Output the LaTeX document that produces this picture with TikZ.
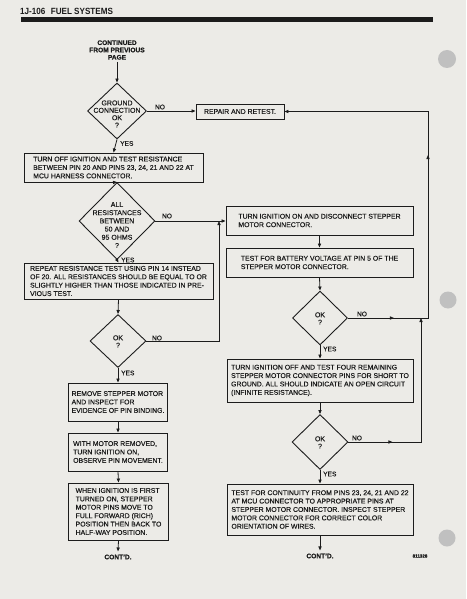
\documentclass[tikz,border=0pt]{standalone}
\usepackage{fontspec}
\setmainfont[FakeBold=0.6]{Liberation Sans}
\newfontfamily\hdrfont[FakeStretch=0.9]{Liberation Sans}
\newfontfamily\txtfont[FakeBold=0.35]{Liberation Sans}
\usetikzlibrary{shapes.geometric,arrows.meta,decorations.markings}
\definecolor{paper}{RGB}{236,235,231}
\definecolor{ink}{RGB}{28,28,28}
\definecolor{hole}{RGB}{192,192,192}
\begin{document}
\begin{tikzpicture}[x=1pt,y=-1pt,
  mytip/.tip={Triangle[length=4pt,width=3.2pt]},
  boxnode/.style={draw=ink,line width=0.9pt,rectangle,align=left,inner sep=0pt,text=ink,font=\txtfont\fontsize{6.9}{8.4}\selectfont},
  dia/.style={draw=ink,line width=0.9pt,diamond,inner sep=0pt},
  dtext/.style={align=center,inner sep=0pt,text=ink,font=\txtfont\fontsize{7}{7.4}\selectfont},
  lbl/.style={inner sep=0pt,text=ink,font=\txtfont\fontsize{6.6}{7}\selectfont},
  bold/.style={align=center,inner sep=0pt,text=ink,font=\fontsize{6.6}{7.3}\selectfont\bfseries},
  conn/.style={draw=ink,line width=0.8pt},
  tipend/.style={conn,-mytip}
]
\useasboundingbox (0,0) rectangle (466,599);
\fill[paper] (0,0) rectangle (466,599);
% punch holes
\fill[hole] (447,59) circle[radius=9pt];
\fill[hole] (448,300) circle[radius=8.5pt];
\fill[hole] (447,538) circle[radius=8.5pt];
% header
\node[anchor=west,inner sep=0pt,text=ink,font=\hdrfont\fontsize{9}{10}\selectfont\bfseries] (hdr) at (20,11) {1J-106\hspace{0.6em}FUEL SYSTEMS};
\fill[ink] (21,17.5) rectangle (433,22);

% left column
\node[bold] (cont) at (117,50) {CONTINUED\\FROM PREVIOUS\\PAGE};
\node[dia,minimum width=59pt,minimum height=56pt] (d1) at (117,111) {};
\node[dtext] (d1t) at (117,114) {GROUND\\CONNECTION\\OK\\?};
\node[boxnode,minimum width=88pt,minimum height=15pt,align=center] (repair) at (240,111.5) {REPAIR AND RETEST.};
\node[boxnode,minimum width=179pt,minimum height=29pt] (turnoff) at (113.5,167.5) {TURN OFF IGNITION AND TEST RESISTANCE\\BETWEEN PIN 20 AND PINS 23, 24, 21 AND 22 AT\\MCU HARNESS CONNECTOR.};
\node[dia,minimum width=76pt,minimum height=77pt] (d2) at (117,221) {};
\node[dtext,font=\txtfont\fontsize{7}{8.2}\selectfont] (d2t) at (117,225) {ALL\\RESISTANCES\\BETWEEN\\50 AND\\95 OHMS\\?};
\node[boxnode,minimum width=189pt,minimum height=36pt] (repeat) at (118.5,281) {REPEAT RESISTANCE TEST USING PIN 14 INSTEAD\\OF 20. ALL RESISTANCES SHOULD BE EQUAL TO OR\\SLIGHTLY HIGHER THAN THOSE INDICATED IN PRE-\\VIOUS TEST.};
\node[dia,minimum width=56pt,minimum height=53pt] (d3) at (118,341) {};
\node[dtext] (d3t) at (118,341.5) {OK\\?};
\node[boxnode,minimum width=99pt,minimum height=38pt] (remove) at (118,402) {REMOVE STEPPER MOTOR\\AND INSPECT FOR\\EVIDENCE OF PIN BINDING.};
\node[boxnode,minimum width=99pt,minimum height=38pt] (withmotor) at (118,452) {WITH MOTOR REMOVED,\\TURN IGNITION ON,\\OBSERVE PIN MOVEMENT.};
\node[boxnode,minimum width=100pt,minimum height=57pt] (when) at (118.5,511.5) {WHEN IGNITION IS FIRST\\TURNED ON, STEPPER\\MOTOR PINS MOVE TO\\FULL FORWARD (RICH)\\POSITION THEN BACK TO\\HALF-WAY POSITION.};
\node[bold] (contd1) at (118,557) {CONT’D.};

% right column
\node[boxnode,minimum width=187pt,minimum height=29pt] (turnon) at (319.5,220.5) {TURN IGNITION ON AND DISCONNECT STEPPER\\MOTOR CONNECTOR.};
\node[boxnode,minimum width=187pt,minimum height=29pt] (battery) at (319.5,262.5) {TEST FOR BATTERY VOLTAGE AT PIN 5 OF THE\\STEPPER MOTOR CONNECTOR.};
\node[dia,minimum width=55pt,minimum height=54pt] (d4) at (320,318) {};
\node[dtext] (d4t) at (320,318.5) {OK\\?};
\node[boxnode,minimum width=186pt,minimum height=43pt] (turnoff2) at (320,380.5) {TURN IGNITION OFF AND TEST FOUR REMAINING\\STEPPER MOTOR CONNECTOR PINS FOR SHORT TO\\GROUND. ALL SHOULD INDICATE AN OPEN CIRCUIT\\(INFINITE RESISTANCE).};
\node[dia,minimum width=56pt,minimum height=55pt] (d5) at (320,442) {};
\node[dtext] (d5t) at (320,442.5) {OK\\?};
\node[boxnode,minimum width=186pt,minimum height=51pt] (contin) at (320,509.5) {TEST FOR CONTINUITY FROM PINS 23, 24, 21 AND 22\\AT MCU CONNECTOR TO APPROPRIATE PINS AT\\STEPPER MOTOR CONNECTOR. INSPECT STEPPER\\MOTOR CONNECTOR FOR CORRECT COLOR\\ORIENTATION OF WIRES.};
\node[bold] (contd2) at (320,556) {CONT’D.};
\node[inner sep=0pt,text=ink,font=\fontsize{4.5}{5}\selectfont\bfseries] (code) at (420,556) {811328};

% helper coordinates
\coordinate (l1) at (219,341);
\coordinate (l2) at (219,221);
\coordinate (r1) at (428,318);
\coordinate (r2) at (428,111.5);
\coordinate (r3) at (421,442);
\coordinate (r4) at (421,318);

% connectors
\draw[tipend] ([yshift=-2pt]cont.south) -- (d1.north);
\draw[tipend] (d1.east) -- (d1.east -| repair.west);
\draw[tipend] (d1.south) -- (turnoff.north);
\draw[tipend] (turnoff.south) -- (d2.north);
\draw[tipend] (d2.east) -- (d2.east -| turnon.west);
\draw[tipend] (d2.south) -- (repeat.north);
\draw[tipend] (repeat.south) -- (d3.north);
\draw[tipend] (d3.east) -- (l1) -- (l2);
\draw[tipend] (d3.south) -- (remove.north);
\draw[tipend] (remove.south) -- (withmotor.north);
\draw[tipend] (withmotor.south) -- (when.north);
\draw[tipend] (when.south) -- ([yshift=3pt]contd1.north);
\draw[tipend] (turnon.south) -- (battery.north);
\draw[tipend] (battery.south) -- (d4.north);
\draw[tipend] (d4.south) -- (turnoff2.north);
\draw[tipend,postaction={decorate},decoration={markings,mark=at position 46pt with {\arrow{mytip}},mark=at position 243pt with {\arrow{mytip}}}] (d4.east) -- (r1) -- (r2) -- (repair.east);
\draw[tipend] (turnoff2.south) -- (d5.north);
\draw[tipend,postaction={decorate},decoration={markings,mark=at position 44pt with {\arrow{mytip}}}] (d5.east) -- (r3) -- (r4);
\draw[tipend] (d5.south) -- (contin.north);
\draw[tipend] (contin.south) -- ([yshift=3pt]contd2.north);

% labels
\node[lbl] (no1) at (160,107) {NO};
\node[lbl,anchor=west] (yes1) at (120,143.5) {YES};
\node[lbl] (no2) at (167,216) {NO};
\node[lbl,anchor=west] (yes2) at (121,260) {YES};
\node[lbl] (no3) at (157,338) {NO};
\node[lbl,anchor=west] (yes3) at (121,373) {YES};
\node[lbl] (no4) at (362,314) {NO};
\node[lbl,anchor=west] (yes4) at (323,349) {YES};
\node[lbl] (no5) at (357,438) {NO};
\node[lbl,anchor=west] (yes5) at (323,474) {YES};
\end{tikzpicture}
\end{document}
